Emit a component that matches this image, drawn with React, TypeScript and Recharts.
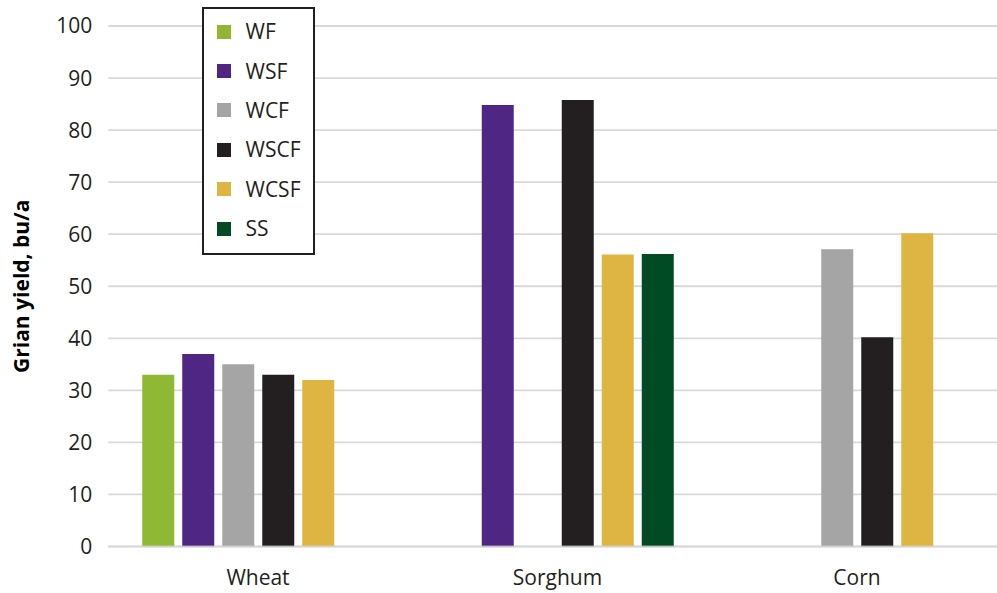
import React from 'react';
import { BarChart, Bar, XAxis, YAxis, CartesianGrid, Legend, ReferenceLine } from 'recharts';

const categories = ['Wheat', 'Sorghum', 'Corn'];
const seriesNames = ['WF', 'WSF', 'WCF', 'WSCF', 'WCSF', 'SS'];
const seriesColors = ['#8fb935', '#4f2683', '#a5a5a5', '#231f20', '#deb443', '#004b23'];
const WF = [33, null, null];
const WSF = [37, 84.8, null];
const WCF = [35, null, 57.1];
const WSCF = [33, 85.8, 40.2];
const WCSF = [32, 56.1, 60.2];
const SS = [null, 56.2, null];
const yTicks = [0, 10, 20, 30, 40, 50, 60, 70, 80, 90, 100];

const seriesValues = [WF, WSF, WCF, WSCF, WCSF, SS];
const data = categories.map((c, i) => {
  const row: Record<string, any> = { category: c };
  seriesNames.forEach((s, j) => {
    row[s] = seriesValues[j][i];
  });
  return row;
});

const FONT = '"Open Sans", "Noto Sans", sans-serif';

const LegendBox = (props: any) => {
  const payload = [...(props.payload || [])].sort(
    (a: any, b: any) => seriesNames.indexOf(a.value) - seriesNames.indexOf(b.value)
  );
  return (
    <div
      style={{
        boxSizing: 'border-box',
        width: 113,
        height: 248,
        border: '2.5px solid #231f20',
        background: '#fff',
        paddingTop: 3,
        fontFamily: FONT,
      }}
    >
      {payload.map((p: any) => (
        <div
          key={p.value}
          style={{ display: 'flex', alignItems: 'center', height: 39.4, paddingLeft: 12.5 }}
        >
          <span style={{ width: 14, height: 14, background: p.color, display: 'inline-block' }} />
          <span style={{ marginLeft: 15, fontSize: 21, color: '#231f20', lineHeight: '21px' }}>{p.value}</span>
        </div>
      ))}
    </div>
  );
};

export default function App() {
  return (
    <div style={{ position: 'absolute', left: 0, top: 0, width: 997, height: 593, overflow: 'hidden', background: '#fff' }}>
      <BarChart
        width={1010}
        height={593}
        data={data}
        margin={{ top: 26, right: 3.25, bottom: 6.5, left: 0 }}
        barSize={32}
        barGap={8}
      >
        <CartesianGrid vertical={false} stroke="#d9d9d9" strokeWidth={1.8} />
        <XAxis
          dataKey="category"
          axisLine={false}
          tickLine={false}
          height={40}
          tickSize={6}
          tickMargin={18}
          tick={{ fontSize: 21, fill: '#231f20', fontFamily: FONT }}
        />
        <YAxis
          width={108.25}
          domain={[0, 100]}
          ticks={yTicks}
          axisLine={false}
          tickLine={false}
          tickSize={6}
          tickMargin={10}
          interval={0}
          tick={{ fontSize: 21, fill: '#231f20', fontFamily: FONT }}
          label={{
            value: 'Grian yield, bu/a',
            angle: -90,
            position: 'insideLeft',
            dx: 17,
            dy: 0,
            fontSize: 21,
            fontWeight: 700,
            fill: '#000',
            fontFamily: FONT,
            textAnchor: 'middle',
          }}
        />
        <Legend
          layout="vertical"
          align="center"
          verticalAlign="middle"
          content={<LegendBox />}
          wrapperStyle={{ position: 'absolute', left: 202, top: 7, width: 113, height: 248 }}
        />
        {seriesNames.map((s, j) => (
          <Bar key={s} dataKey={s} name={s} fill={seriesColors[j]} isAnimationActive={false} />
        ))}
        <ReferenceLine y={0} stroke="#d9d9d9" strokeOpacity={0.7} strokeWidth={1.8} />
      </BarChart>
    </div>
  );
}
